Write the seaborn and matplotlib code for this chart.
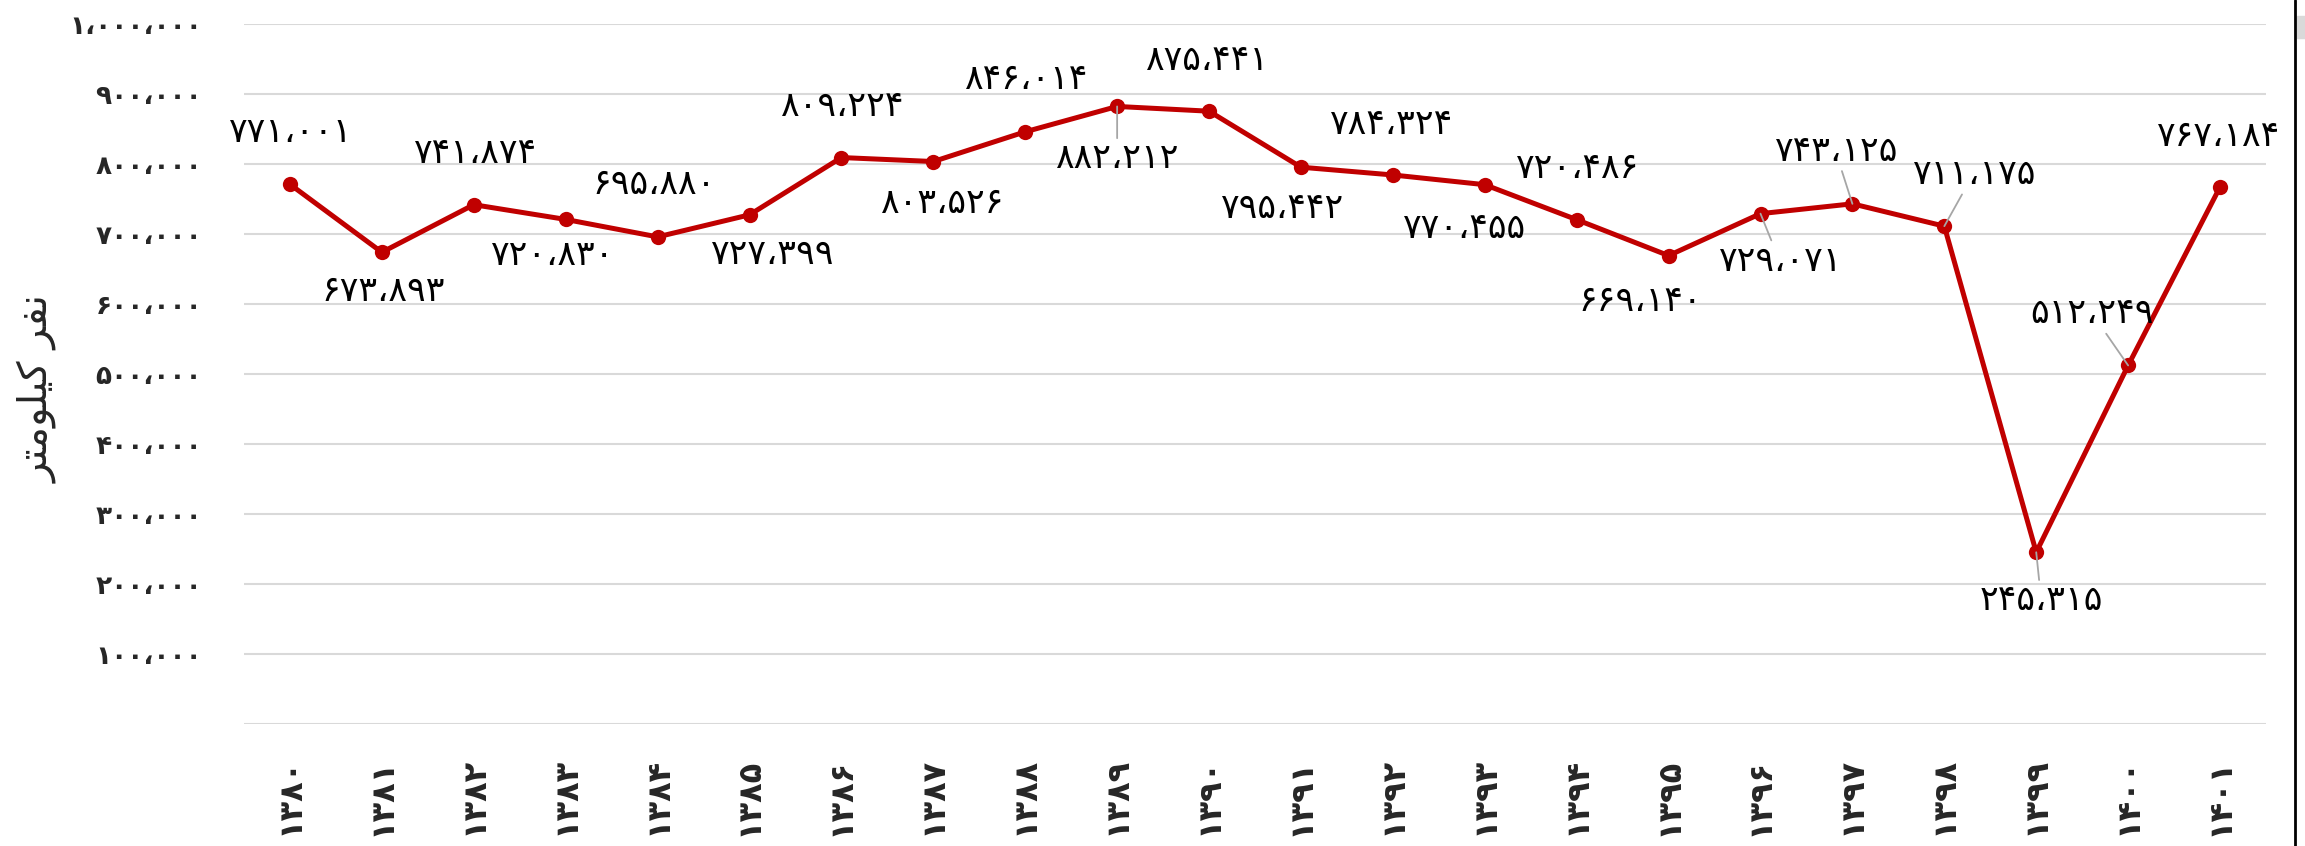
import pandas as pd
import numpy as np
import matplotlib
matplotlib.use("Agg")
import matplotlib.pyplot as plt
import seaborn as sns
from matplotlib.lines import Line2D
from matplotlib.patches import Rectangle

# data
years = [1380, 1381, 1382, 1383, 1384, 1385, 1386, 1387, 1388, 1389, 1390,
         1391, 1392, 1393, 1394, 1395, 1396, 1397, 1398, 1399, 1400, 1401]
values = [771001, 673893, 741874, 720830, 695880, 727399, 809224, 803526,
          846014, 882212, 875441, 795442, 784324, 770455, 720486, 669140,
          729071, 743125, 711175, 245315, 512249, 767184]
y_ticks = [100000, 200000, 300000, 400000, 500000,
           600000, 700000, 800000, 900000, 1000000]
y_title = "نفر کیلومتر"
leader_years = [1389, 1396, 1397, 1398, 1399, 1400]

# where each value label sits relative to its point (pixels)
label_dx = [0, 1, 1, -14, -3, 22, 0, 8, 0, 0, -2, -19, -2, -21, 0, -28, 19, -17, 29, 5, -36, -2]
label_dy = [52, -39, 52, -36, 53, -39, 52, -41, 53, -52, 51, -41, 51, -43, 52, -45, -47, 53, 52, -48, 52, 51]

fa = str.maketrans("0123456789", "۰۱۲۳۴۵۶۷۸۹")


def fa_num(v):
    return f"{v:,}".replace(",", "،").translate(fa)


# matplotlib does no arabic shaping, so use presentation forms, reversed
shaped_title = "\uFEE7\uFED4\uFEAE \uFB90\uFBFF\uFEE0\uFEEE\uFEE3\uFE98\uFEAE"[::-1]

df = pd.DataFrame({"year": [str(y).translate(fa) for y in years], "value": values})

sns.set_style("white")
plt.rcParams["font.family"] = ["DejaVu Sans"]

fig = plt.figure(figsize=(23.05, 8.46), dpi=100)
ax = fig.add_axes([244 / 2305, 1 - 724 / 846, 2022 / 2305, 700 / 846])

sns.lineplot(data=df, x="year", y="value", sort=False, color="#c00000", lw=3.6,
             marker="o", markersize=11, markeredgewidth=0, ax=ax, zorder=3)

ax.set_xlim(-0.5, len(years) - 0.5)
ax.set_ylim(0, 1000000)
ax.set_yticks([0] + y_ticks)
ax.set_yticklabels([""] + [fa_num(v) for v in y_ticks], fontsize=19, fontweight="bold")
ax.yaxis.grid(True, color="#d9d9d9", lw=1.5)
ax.set_axisbelow(True)
ax.tick_params(length=0)
ax.tick_params(axis="y", pad=30)
ax.tick_params(axis="x", pad=24)
for lbl in ax.get_xticklabels():
    lbl.set_rotation(90)
    lbl.set_fontsize(23)
    lbl.set_fontweight("bold")
ax.set_xlabel("")
ax.set_ylabel("")
sns.despine(ax=ax, left=True, bottom=True)

for i, v in enumerate(values):
    arrow = None
    if years[i] in leader_years:
        arrow = dict(arrowstyle="-", color="#a6a6a6", lw=1.3, shrinkA=0, shrinkB=0)
    ax.annotate(fa_num(v), xy=(i, v), xytext=(label_dx[i], label_dy[i]),
                textcoords="offset pixels", ha="center", va="center",
                fontsize=25, color="black", arrowprops=arrow, zorder=4)

fig.text(38 / 2305, 0.54, shaped_title, rotation=90, ha="center", va="center", fontsize=29)

# window edge on the right of the screenshot
fig.add_artist(Line2D([2295 / 2305] * 2, [0, 1], color="black", lw=2, transform=fig.transFigure))
fig.add_artist(Rectangle((2297 / 2305, 1 - 38 / 846), 8 / 2305, 22 / 846, color="#d9d9d9",
                         transform=fig.transFigure))

fig.savefig("out.png", dpi=100)
